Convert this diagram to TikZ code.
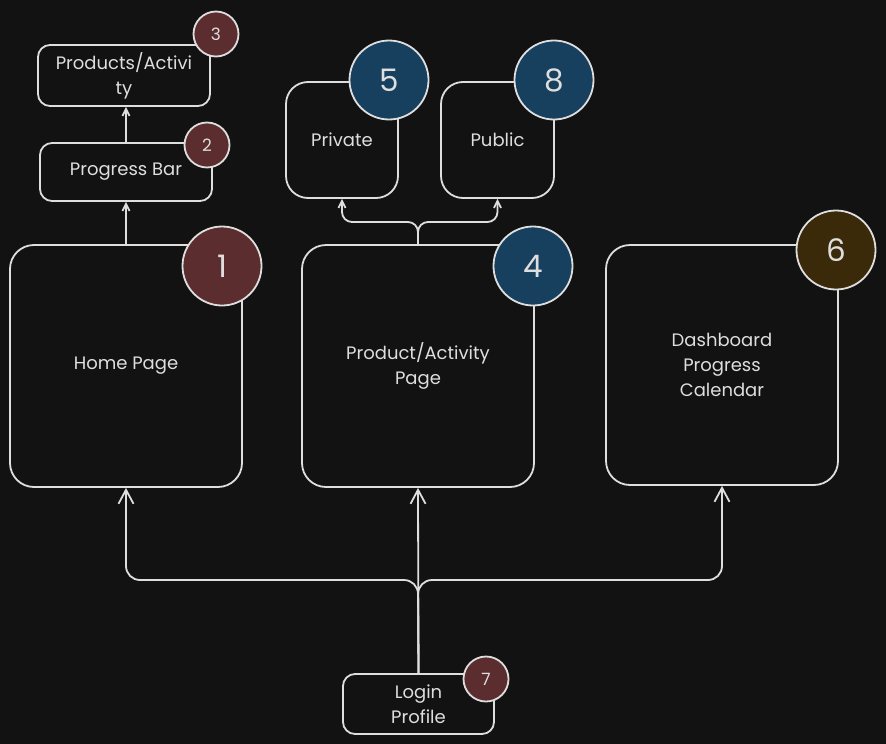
\documentclass[tikz,border=0pt]{standalone}
\usepackage{fontspec}
\setmainfont{Poppins}
\usetikzlibrary{arrows.meta}
\definecolor{bg}{HTML}{121212}
\definecolor{ink}{HTML}{DEDEDE}
\definecolor{wine}{HTML}{5C2D2F}
\definecolor{navy}{HTML}{17405F}
\definecolor{umber}{HTML}{3B2A0A}
\begin{document}
\begin{tikzpicture}[x=1pt,y=-1pt,
  box/.style={draw=ink, line width=1.8pt, rounded corners=#1, text=ink, align=center,
    inner sep=0pt, font=\fontsize{18}{25}\selectfont},
  box/.default=24pt,
  badge/.style={circle, draw=ink, line width=1.8pt, fill=#1, text=ink, inner sep=0pt,
    minimum size=79pt, font=\fontsize{31}{31}\selectfont},
  smallbadge/.style={badge=#1, minimum size=45pt, font=\fontsize{17}{17}\selectfont},
  link/.style={draw=ink, line width=1.8pt, rounded corners=14pt},
  bigtip/.style={-{Straight Barb[length=14pt,width=15pt]}},
  smalltip/.style={-{Straight Barb[length=7pt,width=7pt]}}
]
% canvas
\fill[bg] (0,0) rectangle (886,744);
\useasboundingbox (0,0) rectangle (886,744);

% left column
\node[box, minimum width=232pt, minimum height=242pt] (home) at (126,366) {Home Page};
\node[box=12pt, minimum width=172pt, minimum height=58pt] (progress) at (126,172) {Progress Bar};
\node[box=12pt, minimum width=172pt, minimum height=61pt] (products) at (124,75.5) {Products/Activi\\ty};

% middle column
\node[box, minimum width=232pt, minimum height=242pt] (page) at (418,366) {Product/Activity\\Page};
\node[box=22pt, minimum width=112pt, minimum height=116pt] (priv) at (342,140) {Private};
\node[box=22pt, minimum width=113pt, minimum height=116pt] (pub) at (497.5,140) {Public};

% right column
\node[box, minimum width=232pt, minimum height=240pt] (dash) at (722,365) {Dashboard\\Progress\\Calendar};

% entry point
\node[box=12pt, minimum width=151pt, minimum height=60pt] (login) at (418.5,704) {Login\\Profile};

% connectors
\coordinate (tj) at (418,222);
\coordinate (bj) at (418,580);
\draw[link, smalltip] (home.north) -- (progress.south);
\draw[link, smalltip] (progress.north) -- (progress.north |- products.south);
\draw[link, rounded corners=10pt, smalltip] (page.north) -- (tj) -- (tj -| priv.south) -- (priv.south);
\draw[link, rounded corners=10pt, smalltip] (page.north) -- (tj) -- (tj -| pub.south) -- (pub.south);
\draw[link, bigtip] (login.north) -- (bj) -- (bj -| home.south) -- (home.south);
\draw[link, bigtip] (login.north) -- (page.south);
\draw[link, bigtip] (login.north) -- (bj) -- (bj -| dash.south) -- (dash.south);

% numbered badges
\node[badge=wine] (b1) at (222,266) {1};
\node[smallbadge=wine] (b2) at (207,145) {2};
\node[smallbadge=wine] (b3) at (216,34) {3};
\node[badge=navy] (b4) at (533,266) {4};
\node[badge=navy] (b5) at (389,80) {5};
\node[badge=umber] (b6) at (836,250) {6};
\node[smallbadge=wine] (b7) at (486,679) {7};
\node[badge=navy] (b8) at (554,80) {8};
\end{tikzpicture}
\end{document}
